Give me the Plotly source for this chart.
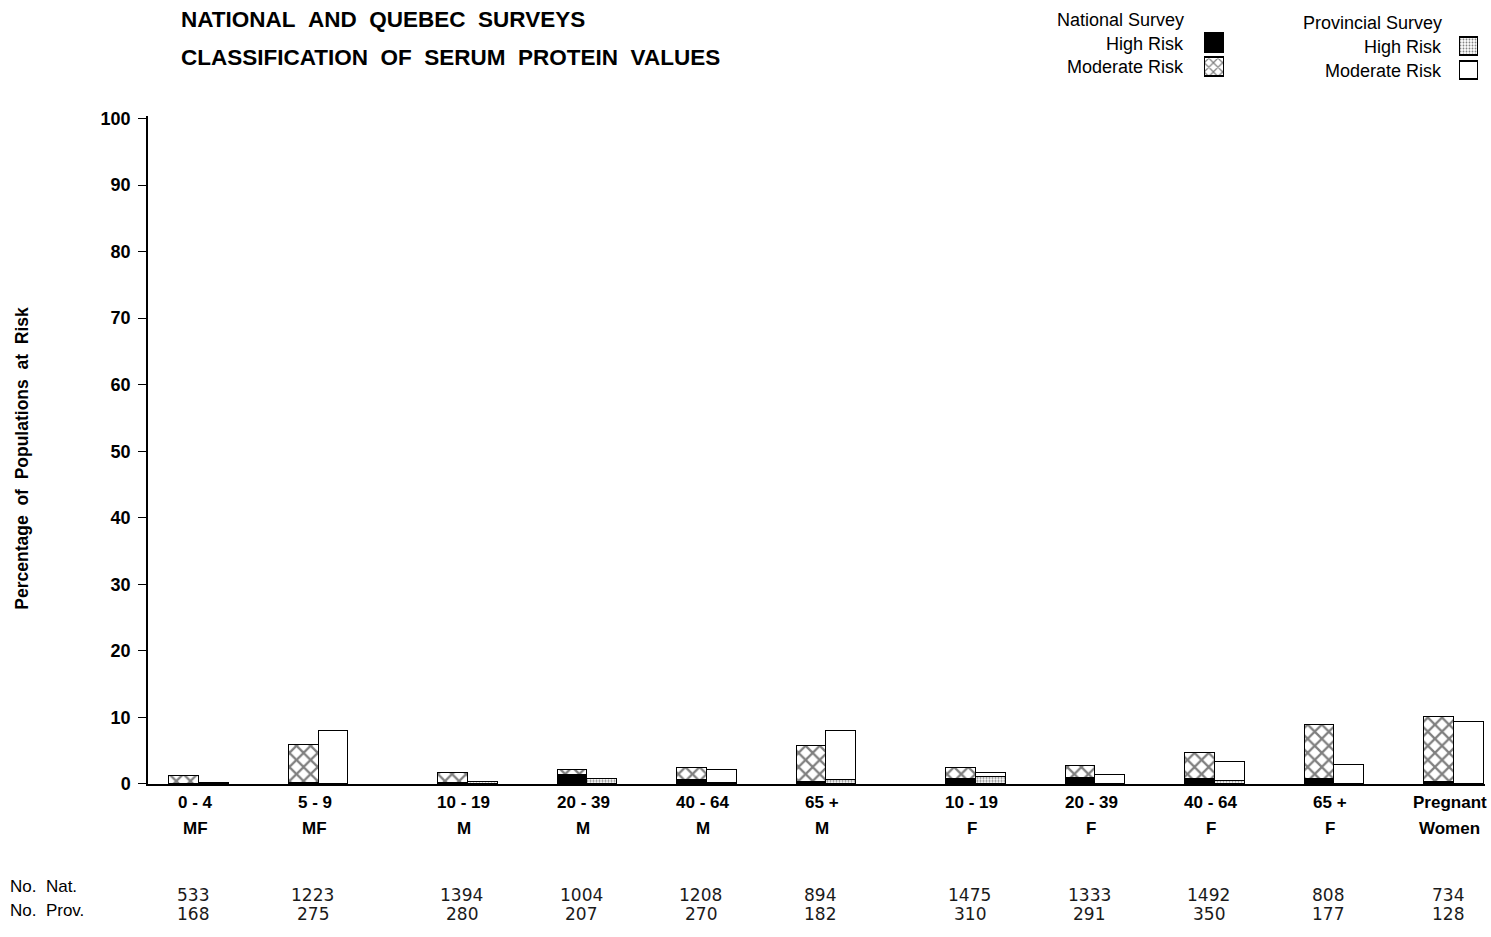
import plotly.graph_objects as go

# ---------------- data ----------------
age_groups = ["0 - 4", "5 - 9", "10 - 19", "20 - 39", "40 - 64", "65 +",
              "10 - 19", "20 - 39", "40 - 64", "65 +", "Pregnant"]
sex_groups = ["MF", "MF", "M", "M", "M", "M", "F", "F", "F", "F", "Women"]
nat_high = [0.0, 0.1, 0.1, 1.3, 0.5, 0.2, 0.75, 0.85, 0.65, 0.75, 0.3]
nat_mod = [1.1, 5.65, 1.55, 0.7, 1.85, 5.5, 1.55, 1.85, 4.0, 8.05, 9.7]
prov_high = [0.0, 0.0, 0.2, 0.75, 0.1, 0.5, 1.0, 0.0, 0.35, 0.0, 0.0]
prov_mod = [0.1, 7.9, 0.0, 0.0, 2.0, 7.45, 0.55, 1.25, 2.9, 2.75, 9.2]
n_nat = [533, 1223, 1394, 1004, 1208, 894, 1475, 1333, 1492, 808, 734]
n_prov = [168, 275, 280, 207, 270, 182, 310, 291, 350, 177, 128]
y_ticks = list(range(0, 101, 10))

# ---------------- layout helpers ----------------
W, H = 1491, 937
ML, MR, MT, MB = 148, 6, 10, 153
PW, PH = W - ML - MR, H - MT - MB
group_pos = [0, 1, 2.25, 3.25, 4.25, 5.25, 6.5, 7.5, 8.5, 9.5, 10.5]
BW = 0.25
TOP_ADJ = -3  # small vertical correction for header items


def px_x(px):
    return (px - ML) / PW


def px_y(py):
    return (H - MB - py) / PH


BOLD = "Liberation Sans, Arial, sans-serif"
NS = "\u00a0"

x_nat = [p - BW / 2 for p in group_pos]
x_prov = [p + BW / 2 for p in group_pos]

line = dict(color="black", width=1.5)
hatch = dict(shape="x", size=10, solidity=0.4, fgcolor="black", bgcolor="white", fillmode="overlay")
dots = dict(shape=".", size=3, solidity=0.4, fgcolor="black", bgcolor="white", fillmode="overlay")

fig = go.Figure()
fig.add_trace(go.Bar(x=x_nat, y=nat_high, width=BW, name="National High Risk",
                     marker=dict(color="black", line=line)))
fig.add_trace(go.Bar(x=x_nat, y=nat_mod, width=BW, name="National Moderate Risk",
                     marker=dict(color="white", pattern=hatch, line=line)))
fig.add_trace(go.Bar(x=x_prov, y=prov_high, width=BW, name="Provincial High Risk",
                     marker=dict(color="white", pattern=dots, line=line)))
fig.add_trace(go.Bar(x=x_prov, y=prov_mod, width=BW, name="Provincial Moderate Risk",
                     marker=dict(color="white", line=line)))

# ---------------- legend swatches (own small axis) ----------------
sw_x = [1214.5, 1214.5, 1469, 1469]
sw_base = [52, 76, 55, 79]
sw_h = [-19, -19, -18, -18]
sw_w = [19, 19, 18, 18]
sw_markers = [dict(color="black", line=line),
              dict(color="white", pattern=dict(shape="x", size=6.5, solidity=0.35, fgcolor="black",
                                               bgcolor="white", fillmode="overlay"), line=line),
              dict(color="white", pattern=dict(shape=".", size=3, solidity=0.3, fgcolor="black",
                                               bgcolor="white", fillmode="overlay"), line=line),
              dict(color="white", line=line)]
for i in range(4):
    fig.add_trace(go.Bar(x=[sw_x[i]], y=[sw_h[i]], base=[sw_base[i]], width=[sw_w[i]],
                         marker=sw_markers[i], xaxis="x2", yaxis="y2", showlegend=False))

annotations = []
# title
annotations.append(dict(text=f"NATIONAL{NS}{NS}AND{NS}{NS}QUEBEC{NS}{NS}SURVEYS", x=px_x(179), y=px_y(19 + TOP_ADJ),
                        xref="paper", yref="paper", xanchor="left", yanchor="middle", showarrow=False,
                        font=dict(family=BOLD, size=22.5, color="black", weight="bold")))
annotations.append(dict(text=f"CLASSIFICATION{NS}{NS}OF{NS}{NS}SERUM{NS}{NS}PROTEIN{NS}{NS}VALUES", x=px_x(179),
                        y=px_y(57 + TOP_ADJ),
                        xref="paper", yref="paper", xanchor="left", yanchor="middle", showarrow=False,
                        font=dict(family=BOLD, size=22.5, color="black", weight="bold")))
# y title
annotations.append(dict(text=f"Percentage{NS}{NS}of{NS}{NS}Populations{NS}{NS}at{NS}{NS}Risk", x=px_x(22), y=px_y(457),
                        xref="paper", yref="paper", xanchor="center", yanchor="middle", textangle=-90,
                        showarrow=False, font=dict(family=BOLD, size=17.5, color="black", weight="bold")))
# legend texts
leg_texts = ["National Survey", "High Risk", "Moderate Risk", "Provincial Survey", "High Risk", "Moderate Risk"]
leg_rx = [1186, 1186, 1186, 1444, 1444, 1444]
leg_y = [19, 43, 66, 22, 46, 70]
for t, rx, yy in zip(leg_texts, leg_rx, leg_y):
    annotations.append(dict(text=t, x=px_x(rx), y=px_y(yy + TOP_ADJ), xref="paper", yref="paper",
                            xanchor="right", yanchor="middle", showarrow=False,
                            font=dict(family=BOLD, size=18, color="black")))
# category labels
for p, a, s in zip(group_pos, age_groups, sex_groups):
    annotations.append(dict(text=a, x=p, y=px_y(803), xref="x", yref="paper", xshift=-4,
                            xanchor="center", yanchor="middle", showarrow=False,
                            font=dict(family=BOLD, size=17, color="black", weight="bold")))
    annotations.append(dict(text=s, x=p, y=px_y(829), xref="x", yref="paper", xshift=-4,
                            xanchor="center", yanchor="middle", showarrow=False,
                            font=dict(family=BOLD, size=17, color="black", weight="bold")))
# sample sizes
annotations.append(dict(text=f"No.{NS}{NS}Nat.", x=px_x(8), y=px_y(887), xref="paper", yref="paper",
                        xanchor="left", yanchor="middle", showarrow=False,
                        font=dict(family=BOLD, size=17, color="black")))
annotations.append(dict(text=f"No.{NS}{NS}Prov.", x=px_x(8), y=px_y(911), xref="paper", yref="paper",
                        xanchor="left", yanchor="middle", showarrow=False,
                        font=dict(family=BOLD, size=17, color="black")))
for p, a, b in zip(group_pos, n_nat, n_prov):
    annotations.append(dict(text=str(a), x=p, y=px_y(896), xref="x", yref="paper", xshift=-6,
                            xanchor="center", yanchor="middle", showarrow=False,
                            font=dict(family="DejaVu Sans, sans-serif", size=17, color="#1a1a1a")))
    annotations.append(dict(text=str(b), x=p, y=px_y(915), xref="x", yref="paper", xshift=-6,
                            xanchor="center", yanchor="middle", showarrow=False,
                            font=dict(family="DejaVu Sans, sans-serif", size=17, color="#1a1a1a")))

fig.update_layout(
    width=W, height=H,
    margin=dict(l=ML, r=MR, t=MT, b=MB, pad=0),
    paper_bgcolor="white", plot_bgcolor="white",
    barmode="stack", bargap=0, showlegend=False,
    annotations=annotations,
    xaxis=dict(range=[-0.427, 10.76], domain=[0, 1], showline=True, linecolor="black", linewidth=1.5,
               showgrid=False, zeroline=False, showticklabels=False, ticks="", fixedrange=True),
    yaxis=dict(range=[0, 100.3], domain=[0, px_y(113)], showline=True, linecolor="black", linewidth=1.5,
               showgrid=False, zeroline=False, ticks="outside", ticklen=8, tickwidth=1.2, tickcolor="black",
               tickvals=y_ticks, ticktext=[str(v) for v in y_ticks], ticklabelstandoff=4,
               tickfont=dict(family=BOLD, size=18, color="black", weight="bold")),
    xaxis2=dict(domain=[px_x(1195), 1.0], range=[1195, 1485], anchor="y2", visible=False),
    yaxis2=dict(domain=[px_y(85 + TOP_ADJ), px_y(25 + TOP_ADJ)], range=[85, 25], anchor="x2", visible=False),
    font=dict(family=BOLD),
)
fig.update_traces(hoverinfo="skip")

fig.write_html(
    "out.html",
    config={"displayModeBar": False},
    post_script="document.body.style.margin='0';document.body.style.overflow='hidden';",
)
